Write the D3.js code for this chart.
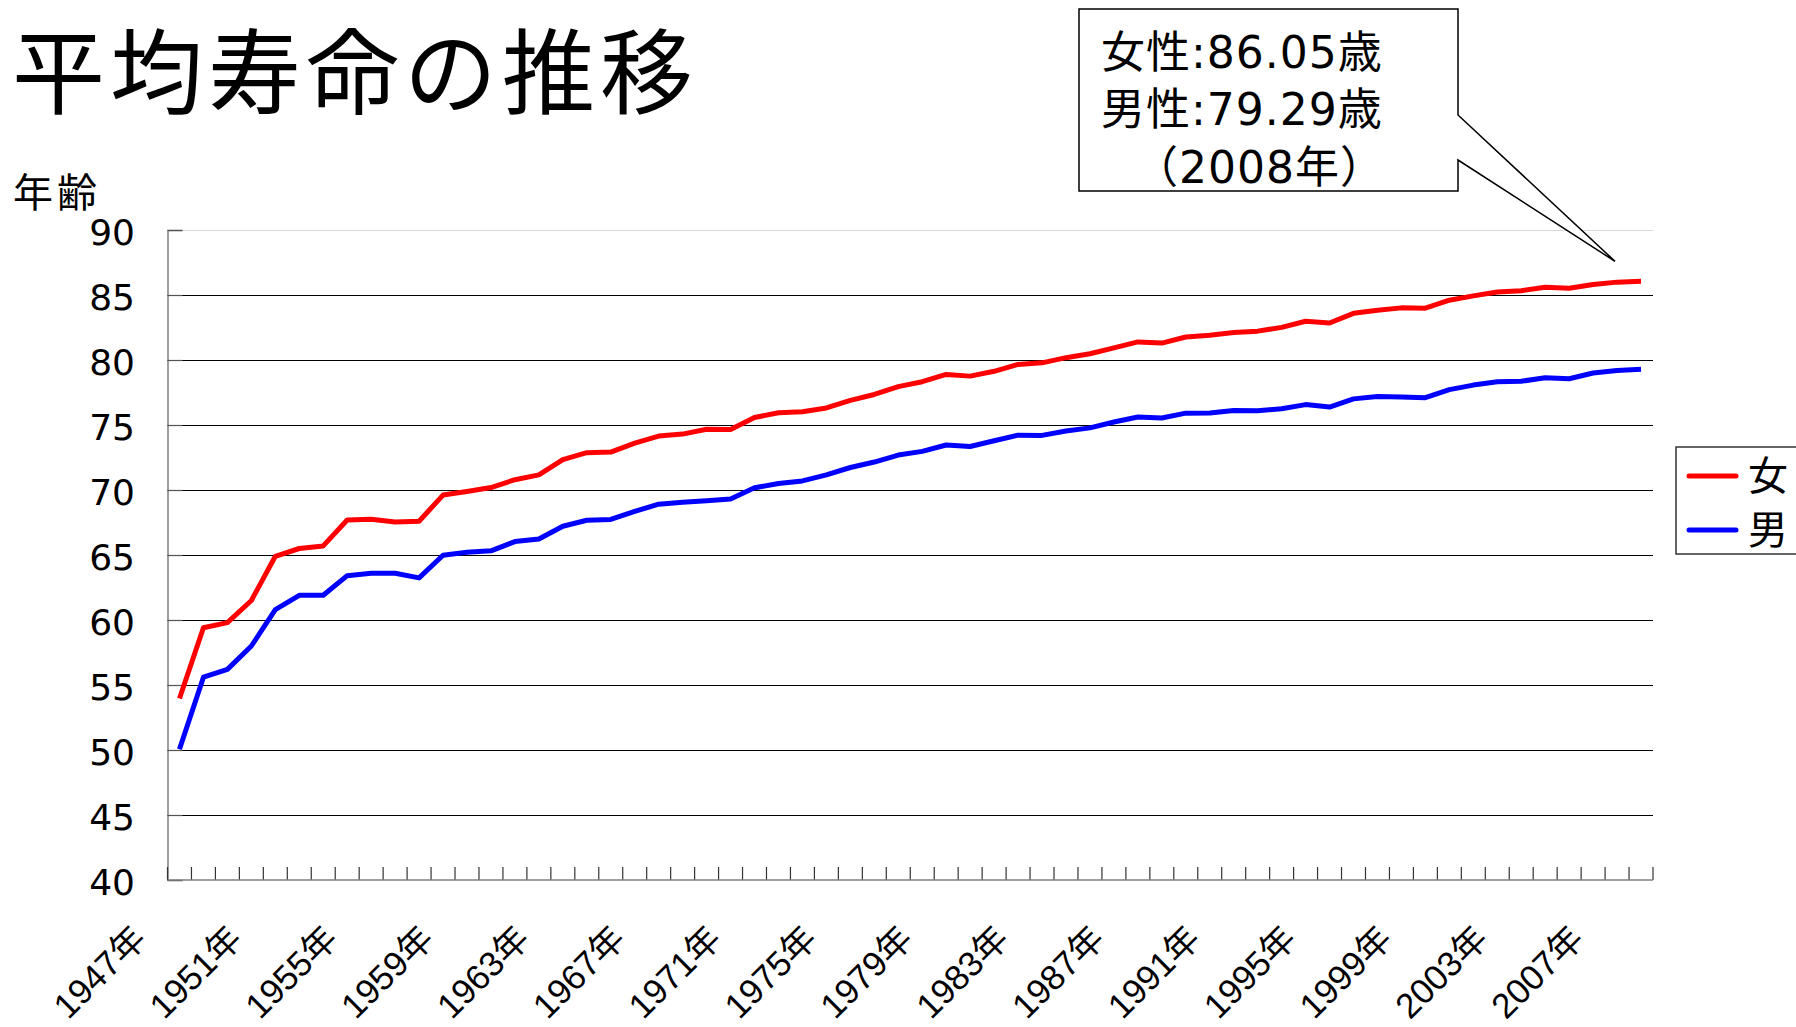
<!DOCTYPE html>
<html>
<head>
<meta charset="utf-8">
<script src="https://cdn.jsdelivr.net/npm/d3@7"></script>
<style>
  html, body { margin: 0; padding: 0; background: #fff; }
  svg { display: block; }
  text { font-family: "Liberation Sans", Arial, "Noto Sans CJK JP", sans-serif; fill: #000; }
  text.wide { font-family: "DejaVu Sans", "Noto Sans CJK JP", sans-serif; }
  text.cjk { font-family: "Noto Sans CJK JP", sans-serif; }
</style>
</head>
<body>
<svg id="chart" width="1796" height="1027"></svg>
<script>
// 平均寿命（歳）1947〜2008年
const years = d3.range(1947, 2009);
const female = [
  53.96, 59.40, 59.80, 61.50, 64.90, 65.50, 65.70, 67.69, 67.75, 67.54,
  67.60, 69.61, 69.88, 70.19, 70.79, 71.16, 72.34, 72.87, 72.92, 73.61,
  74.15, 74.30, 74.67, 74.66, 75.58, 75.94, 76.02, 76.31, 76.89, 77.35,
  77.95, 78.33, 78.89, 78.76, 79.13, 79.66, 79.78, 80.18, 80.48, 80.93,
  81.39, 81.30, 81.77, 81.90, 82.11, 82.22, 82.51, 82.98, 82.85, 83.59,
  83.82, 84.01, 83.99, 84.60, 84.93, 85.23, 85.33, 85.59, 85.52, 85.81,
  85.99, 86.05
];
const male = [
  50.06, 55.60, 56.20, 58.00, 60.80, 61.90, 61.90, 63.41, 63.60, 63.59,
  63.24, 64.98, 65.21, 65.32, 66.03, 66.23, 67.21, 67.67, 67.74, 68.35,
  68.91, 69.05, 69.18, 69.31, 70.17, 70.50, 70.70, 71.16, 71.73, 72.15,
  72.69, 72.97, 73.46, 73.35, 73.79, 74.22, 74.20, 74.54, 74.78, 75.23,
  75.61, 75.54, 75.91, 75.92, 76.11, 76.09, 76.25, 76.57, 76.38, 77.01,
  77.19, 77.16, 77.10, 77.72, 78.07, 78.32, 78.36, 78.64, 78.56, 79.00,
  79.19, 79.29
];
const yTicks = [40, 45, 50, 55, 60, 65, 70, 75, 80, 85, 90];
const labelYears = d3.range(1947, 2009, 4);
const seriesNames = ["女", "男"];
const seriesColors = ["#ff0000", "#0000ff"];

const svg = d3.select("#chart");
const plotL = 167.5, plotR = 1653, plotT = 230, plotB = 880;

const x = d3.scaleBand().domain(years).range([plotL, plotR]).padding(0);
const y = d3.scaleLinear().domain([40, 90]).range([plotB, plotT]);
const cx = d => x(d) + x.bandwidth() / 2;

// title
svg.append("text")
  .attr("class", "cjk")
  .attr("x", 12).attr("y", 107)
  .attr("font-size", 93)
  .attr("letter-spacing", 5)
  .text("平均寿命の推移");

// axis title
svg.append("text")
  .attr("class", "cjk")
  .attr("x", 13).attr("y", 207)
  .attr("font-size", 40)
  .attr("letter-spacing", 4)
  .text("年齢");

// horizontal gridlines
svg.append("g").selectAll("line")
  .data(yTicks.filter(v => v > 40))
  .join("line")
  .attr("x1", plotL).attr("x2", plotR)
  .attr("y1", d => Math.round(y(d)) + 0.5).attr("y2", d => Math.round(y(d)) + 0.5)
  .attr("stroke", d => d === 90 ? "#d9d9d9" : "#000")
  .attr("stroke-width", 1.2);

// y axis
const yAxis = d3.axisRight(y).tickValues(yTicks).tickSize(15).tickFormat("");
const gy = svg.append("g").attr("transform", `translate(${plotL},0)`).call(yAxis);
gy.select(".domain").attr("stroke", "#7f7f7f").attr("stroke-width", 1.5);
gy.selectAll(".tick line").attr("stroke", "#555").attr("stroke-width", 1.2);

svg.append("g").selectAll("text")
  .data(yTicks)
  .join("text")
  .attr("class", "wide")
  .attr("x", 135)
  .attr("y", d => y(d) + 15)
  .attr("text-anchor", "end")
  .attr("font-size", 36)
  .text(d => d);

// x axis: ticks on category boundaries
const bounds = years.map(d => x(d)).concat([plotR]);
svg.append("g").selectAll("line")
  .data(bounds)
  .join("line")
  .attr("x1", d => d).attr("x2", d => d)
  .attr("y1", plotB).attr("y2", plotB - 13)
  .attr("stroke", "#333").attr("stroke-width", 1.2);
svg.append("line")
  .attr("x1", plotL).attr("x2", plotR)
  .attr("y1", plotB).attr("y2", plotB)
  .attr("stroke", "#7f7f7f").attr("stroke-width", 1.5);

svg.append("g").selectAll("text")
  .data(labelYears)
  .join("text")
  .attr("transform", d => `translate(${cx(d) - 40},${plotB + 52}) rotate(-45)`)
  .attr("text-anchor", "end")
  .attr("dy", "0.35em")
  .attr("font-size", 35)
  .text(d => d + "年");

// series lines
const line = values => d3.line()
  .x((v, i) => cx(years[i]))
  .y(v => y(v))(values);

[female, male].forEach((vals, i) => {
  svg.append("path")
    .attr("d", line(vals))
    .attr("fill", "none")
    .attr("stroke", seriesColors[i])
    .attr("stroke-width", 5)
    .attr("stroke-linejoin", "round");
});

// legend
const lg = svg.append("g");
lg.append("rect")
  .attr("x", 1676).attr("y", 447).attr("width", 140).attr("height", 107)
  .attr("fill", "#fff").attr("stroke", "#333").attr("stroke-width", 1.5);
seriesNames.forEach((name, i) => {
  const ly = 476 + i * 54;
  lg.append("line")
    .attr("x1", 1689).attr("x2", 1736).attr("y1", ly).attr("y2", ly)
    .attr("stroke", seriesColors[i]).attr("stroke-width", 5)
    .attr("stroke-linecap", "round");
  lg.append("text")
    .attr("class", "cjk")
    .attr("x", 1748).attr("y", ly + 14)
    .attr("font-size", 40)
    .text(name);
});

// callout for the latest year
const lastYear = years[years.length - 1];
const lastF = female[female.length - 1];
const lastM = male[male.length - 1];
const tipX = cx(lastYear) - 26, tipY = y(lastF) - 20;
svg.append("path")
  .attr("d", `M1079,9 H1458 V115 L${tipX},${tipY} L1458,160 V191 H1079 Z`)
  .attr("fill", "#fff").attr("stroke", "#000").attr("stroke-width", 1.5)
  .attr("stroke-linejoin", "miter");

const calloutLines = [
  { t: `女性:${lastF.toFixed(2)}歳`, x: 1101, y: 68 },
  { t: `男性:${lastM.toFixed(2)}歳`, x: 1101, y: 125 },
  { t: `（${lastYear}年）`, x: 1134, y: 183 }
];
svg.append("g").selectAll("text")
  .data(calloutLines)
  .join("text")
  .attr("class", "wide")
  .attr("font-size", 44)
  .attr("letter-spacing", 1)
  .attr("x", d => d.x).attr("y", d => d.y)
  .text(d => d.t);
</script>
</body>
</html>
